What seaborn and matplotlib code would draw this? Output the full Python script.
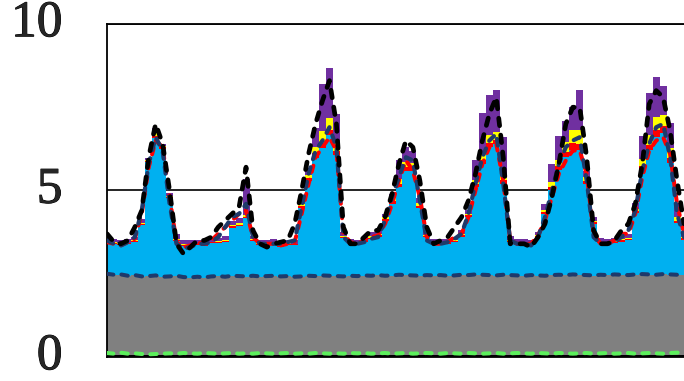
import numpy as np
import matplotlib
matplotlib.use("Agg")
import matplotlib.pyplot as plt
import matplotlib.patheffects as pe
import seaborn as sns

# 2-hourly slots over one week (12 per day)
hours = np.arange(0, 168, 2)

# stacked layers (thickness of each band)
black_band = [0.05, 0.05, 0.05, 0.05, 0.05, 0.05, 0.05, 0.05, 0.05, 0.05, 0.05, 0.05,
              0.05, 0.05, 0.05, 0.05, 0.05, 0.05, 0.05, 0.05, 0.05, 0.05, 0.05, 0.05,
              0.05, 0.05, 0.05, 0.05, 0.05, 0.05, 0.05, 0.05, 0.05, 0.05, 0.05, 0.05,
              0.05, 0.05, 0.05, 0.05, 0.05, 0.05, 0.05, 0.05, 0.05, 0.05, 0.05, 0.05,
              0.05, 0.05, 0.05, 0.05, 0.05, 0.05, 0.05, 0.05, 0.05, 0.05, 0.05, 0.05,
              0.05, 0.05, 0.05, 0.05, 0.05, 0.05, 0.05, 0.05, 0.05, 0.05, 0.05, 0.05,
              0.05, 0.05, 0.05, 0.05, 0.05, 0.05, 0.05, 0.05, 0.05, 0.05, 0.05, 0.05]
gray_band = [2.42, 2.40, 2.41, 2.38, 2.40, 2.36, 2.37, 2.39, 2.35, 2.36, 2.38, 2.34,
             2.33, 2.35, 2.33, 2.36, 2.37, 2.35, 2.38, 2.37, 2.36, 2.38, 2.36, 2.37,
             2.38, 2.36, 2.37, 2.35, 2.36, 2.38, 2.37, 2.39, 2.38, 2.37, 2.36, 2.38,
             2.37, 2.39, 2.38, 2.40, 2.38, 2.39, 2.41, 2.40, 2.39, 2.38, 2.40, 2.39,
             2.40, 2.38, 2.39, 2.41, 2.40, 2.42, 2.41, 2.40, 2.39, 2.41, 2.40, 2.39,
             2.38, 2.40, 2.39, 2.38, 2.40, 2.41, 2.40, 2.42, 2.41, 2.40, 2.39, 2.41,
             2.40, 2.42, 2.41, 2.40, 2.42, 2.43, 2.42, 2.41, 2.43, 2.42, 2.41, 2.42]
blue_band = [0.95, 0.95, 0.90, 0.95, 1.00, 1.55, 3.45, 4.15, 3.85, 2.35, 1.05, 0.95,
             0.95, 0.95, 0.95, 1.00, 1.00, 1.05, 1.45, 1.50, 1.75, 1.05, 0.95, 0.95,
             0.95, 0.90, 0.95, 0.95, 2.05, 2.85, 3.55, 3.85, 4.25, 3.65, 1.15, 0.95,
             0.95, 1.00, 1.10, 1.15, 1.65, 2.15, 2.65, 3.15, 3.15, 2.05, 1.15, 0.95,
             0.95, 0.95, 1.00, 1.15, 1.75, 2.65, 3.35, 3.85, 3.95, 2.75, 1.00, 0.95,
             0.95, 0.90, 1.15, 1.85, 2.55, 3.15, 3.55, 3.75, 3.75, 2.75, 1.55, 0.95,
             0.95, 0.95, 1.00, 1.05, 1.85, 3.15, 3.75, 4.15, 4.25, 3.35, 1.55, 1.05]
red_band = [.03, .03, .03, .03, .03, .04, .03, .05, .05, .04, .03, .03,
            .03, .03, .04, .03, .03, .04, .05, .05, .05, .03, .03, .03,
            .03, .03, .03, .03, .06, .10, .15, .15, .15, .12, .04, .03,
            .03, .03, .05, .05, .06, .08, .10, .10, .10, .06, .04, .03,
            .03, .03, .04, .05, .05, .08, .12, .12, .12, .10, .04, .03,
            .03, .03, .04, .06, .10, .12, .15, .20, .20, .10, .05, .03,
            .03, .03, .04, .05, .06, .12, .15, .20, .20, .15, .08, .04]
yellow_band = [.02, .02, .02, .02, .02, .03, .02, .10, .05, .03, .02, .02,
               .02, .02, .02, .02, .02, .03, .04, .04, .05, .02, .02, .02,
               .02, .02, .02, .02, .08, .10, .20, .35, .35, .30, .03, .02,
               .02, .02, .04, .04, .05, .10, .15, .15, .15, .08, .03, .02,
               .02, .02, .03, .04, .05, .12, .20, .25, .25, .20, .03, .02,
               .02, .02, .03, .06, .15, .20, .30, .40, .40, .10, .05, .02,
               .02, .02, .03, .03, .06, .20, .30, .40, .35, .30, .12, .03]
purple_band = [.10, .10, .10, .10, .10, .12, .05, .15, .05, .08, .15, .12,
               .12, .10, .10, .10, .10, .10, .12, .15, 1.10, .10, .10, .10,
               .10, .10, .10, .10, .15, .20, .55, 1.40, 1.50, .80, .12, .10,
               .10, .10, .12, .12, .10, .12, .55, .45, .35, .15, .10, .10,
               .10, .10, .10, .12, .10, .60, 1.20, 1.20, 1.25, 1.10, .12, .10,
               .10, .10, .10, .18, .55, .70, .65, .70, 1.20, .20, .10, .10,
               .10, .10, .10, .12, .18, .70, 1.25, 1.20, .85, .75, .40, .13]

# dashed lines
black_line = [3.7, 3.45, 3.4, 3.5, 3.9, 4.4, 6.0, 7.0, 6.4, 5.0, 3.4, 3.1,
              3.3, 3.5, 3.5, 3.6, 3.9, 4.1, 4.3, 4.5, 5.7, 3.8, 3.4, 3.3,
              3.4, 3.45, 3.5, 4.0, 5.0, 6.1, 7.0, 7.7, 8.3, 7.0, 3.9, 3.4,
              3.4, 3.6, 3.8, 3.8, 4.2, 4.9, 5.8, 6.5, 6.3, 5.3, 3.9, 3.4,
              3.5, 3.6, 3.9, 4.2, 4.7, 5.5, 6.5, 7.3, 7.8, 6.0, 3.4, 3.4,
              3.4, 3.3, 3.6, 4.0, 4.8, 5.8, 7.0, 7.5, 7.5, 6.0, 3.8, 3.4,
              3.4, 3.5, 3.8, 4.0, 4.6, 5.8, 7.6, 8.0, 7.8, 6.8, 5.3, 4.0]
navy_line = [3.5, 3.4, 3.35, 3.45, 3.6, 4.4, 5.8, 6.6, 6.2, 4.6, 3.4, 3.25,
             3.3, 3.4, 3.4, 3.45, 3.6, 3.9, 4.2, 4.3, 4.6, 3.6, 3.4, 3.4,
             3.4, 3.4, 3.45, 3.5, 4.5, 5.5, 6.2, 6.5, 6.9, 6.3, 3.6, 3.4,
             3.4, 3.45, 3.55, 3.6, 4.1, 4.8, 5.4, 6.0, 5.9, 4.7, 3.5, 3.4,
             3.4, 3.45, 3.55, 3.7, 4.3, 5.2, 6.0, 6.5, 6.7, 5.2, 3.5, 3.4,
             3.4, 3.35, 3.6, 4.2, 5.0, 5.8, 6.3, 6.5, 6.6, 5.3, 3.6, 3.4,
             3.4, 3.45, 3.6, 3.8, 4.4, 5.6, 6.4, 6.9, 7.0, 6.0, 4.3, 3.6]
red_line = [3.45, 3.4, 3.35, 3.45, 3.55, 4.3, 5.7, 6.5, 6.3, 4.8, 3.45, 3.3,
            3.35, 3.4, 3.45, 3.5, 3.7, 3.9, 4.1, 4.3, 4.4, 3.6, 3.4, 3.4,
            3.4, 3.35, 3.4, 3.45, 4.3, 5.2, 6.0, 6.3, 6.6, 6.2, 3.7, 3.45,
            3.4, 3.5, 3.6, 3.65, 4.0, 4.6, 5.3, 5.9, 5.6, 4.8, 3.6, 3.4,
            3.4, 3.45, 3.6, 3.7, 4.2, 5.0, 5.8, 6.3, 6.4, 5.3, 3.5, 3.4,
            3.4, 3.4, 3.65, 4.1, 4.8, 5.5, 5.9, 6.2, 6.2, 5.5, 3.7, 3.4,
            3.4, 3.5, 3.7, 3.7, 4.3, 5.4, 6.2, 6.5, 6.6, 6.1, 4.6, 3.7]
navy_low_line = [2.50, 2.47, 2.48, 2.44, 2.46, 2.42, 2.43, 2.45, 2.41, 2.42, 2.44, 2.40,
                 2.39, 2.41, 2.39, 2.42, 2.43, 2.41, 2.44, 2.43, 2.42, 2.44, 2.42, 2.43,
                 2.44, 2.42, 2.43, 2.41, 2.42, 2.44, 2.43, 2.45, 2.44, 2.43, 2.42, 2.44,
                 2.43, 2.45, 2.44, 2.46, 2.44, 2.45, 2.47, 2.46, 2.45, 2.44, 2.46, 2.45,
                 2.46, 2.44, 2.45, 2.47, 2.46, 2.48, 2.47, 2.46, 2.45, 2.47, 2.46, 2.45,
                 2.44, 2.46, 2.45, 2.44, 2.46, 2.47, 2.46, 2.48, 2.47, 2.46, 2.45, 2.47,
                 2.46, 2.48, 2.47, 2.46, 2.48, 2.49, 2.48, 2.47, 2.49, 2.48, 2.47, 2.48]
green_line = [0.12, 0.10, 0.13, 0.10, 0.11, 0.09, 0.08, 0.09, 0.10, 0.11, 0.10, 0.12,
              0.11, 0.10, 0.12, 0.11, 0.10, 0.11, 0.12, 0.10, 0.11, 0.10, 0.12, 0.11,
              0.10, 0.11, 0.12, 0.10, 0.11, 0.10, 0.12, 0.11, 0.10, 0.11, 0.10, 0.12,
              0.11, 0.12, 0.10, 0.11, 0.12, 0.10, 0.11, 0.12, 0.10, 0.11, 0.12, 0.11,
              0.10, 0.12, 0.11, 0.10, 0.12, 0.11, 0.10, 0.11, 0.12, 0.10, 0.11, 0.12,
              0.11, 0.10, 0.12, 0.11, 0.10, 0.12, 0.11, 0.10, 0.11, 0.12, 0.10, 0.11,
              0.12, 0.10, 0.11, 0.12, 0.10, 0.11, 0.12, 0.11, 0.10, 0.12, 0.13, 0.14]

yticks = [0, 5, 10]

sns.set_style("white")
plt.rcParams['font.family'] = ['Liberation Serif', 'DejaVu Serif']

fig = plt.figure(figsize=(6.84, 3.81), dpi=100)
ax = fig.add_axes([107 / 684, 24 / 381, 577 / 684, 333 / 381])

bands = [black_band, gray_band, blue_band, red_band, yellow_band, purple_band]
colors = ['#000000', '#808080', '#00B0F0', '#FF0000', '#FFFF00', '#7030A0']
tops = np.cumsum(np.array(bands), axis=0)
bottom = np.zeros(len(hours))
for top, c in zip(tops, colors):
    ax.fill_between(hours, bottom, top, step='mid', color=c, lw=0, zorder=2)
    bottom = top

dash = (0, (1.6, 2.0))
sns.lineplot(x=hours, y=green_line, ax=ax, color='#5CF05C', lw=2.9, ls=dash,
             dash_capstyle='round', zorder=3)
sns.lineplot(x=hours, y=navy_low_line, ax=ax, color='#1F3A6B', lw=2.9, ls=dash,
             dash_capstyle='round', zorder=3)
sns.lineplot(x=hours, y=red_line, ax=ax, color='#FF0000', lw=2.9, ls=dash,
             dash_capstyle='round', zorder=4)
sns.lineplot(x=hours, y=navy_line, ax=ax, color='#1F3A6B', lw=3.0, ls=dash,
             dash_capstyle='round', zorder=5)
sns.lineplot(x=hours, y=black_line, ax=ax, color='#000000', lw=3.4, ls=dash,
             dash_capstyle='round', zorder=6)

ax.set_xlim(hours[0], hours[-1])
ax.set_ylim(0, 10)
ax.set_yticks(yticks)
labels = ax.set_yticklabels([str(t) for t in yticks], fontsize=37, va='center')
for lab in labels:
    lab.set_path_effects([pe.withStroke(linewidth=0.7, foreground='black')])
ax.set_xticks([])
ax.tick_params(axis='y', length=0, pad=32)
ax.set_axisbelow(True)
ax.yaxis.grid(True, color='black', lw=1.2)
for side in ['left', 'top', 'bottom']:
    ax.spines[side].set_color('black')
    ax.spines[side].set_linewidth(1.3)
ax.spines['right'].set_visible(False)
ax.set_xlabel('')
ax.set_ylabel('')

fig.savefig('out.png', dpi=100)
